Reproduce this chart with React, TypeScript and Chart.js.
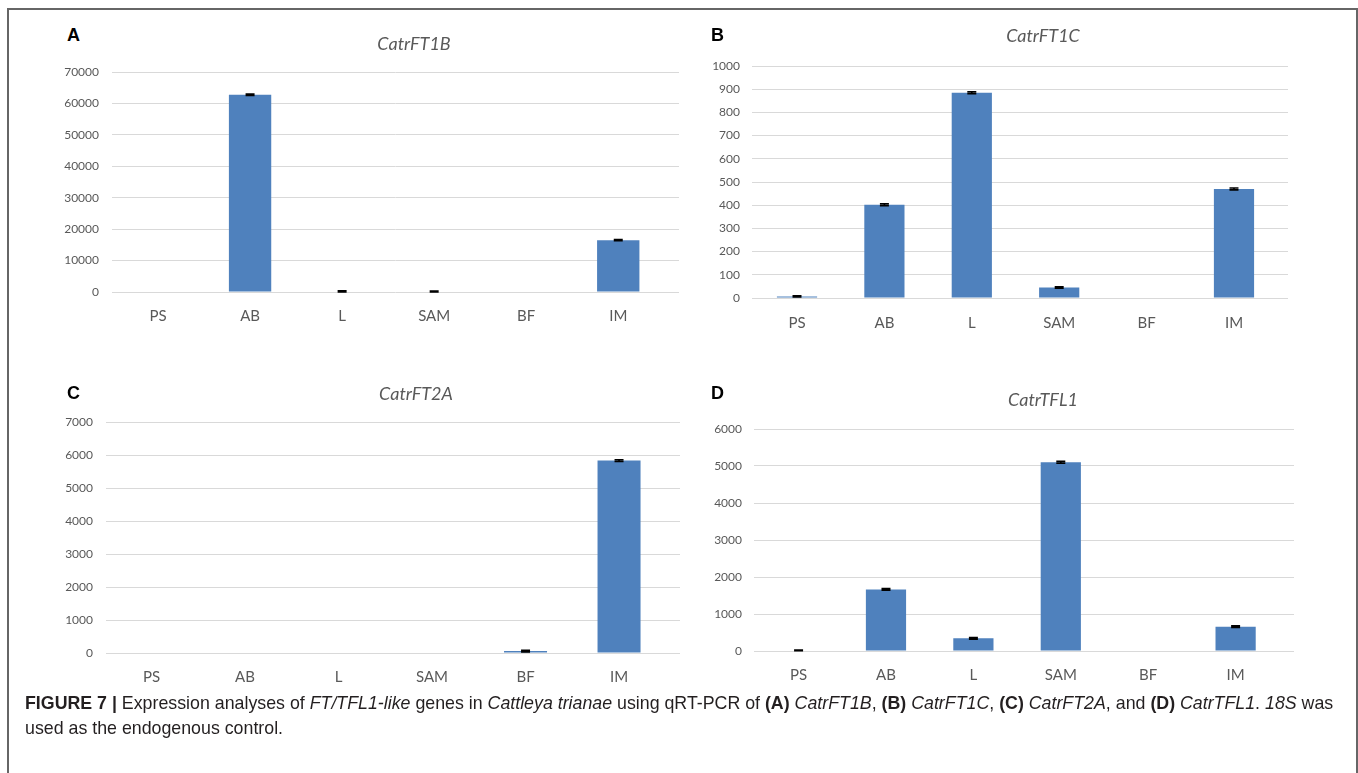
import React, { useEffect, useRef } from "react";
import { Chart, registerables } from "chart.js";

Chart.register(...registerables);

// ---------- data ----------
const categories = ["PS", "AB", "L", "SAM", "BF", "IM"];

const ft1bValues = [0, 62750, 150, 120, 0, 16490];
const ft1bErrors = [0, 250, 200, 200, 0, 180];

const ft1cValues = [7, 402, 885, 45, 0, 470];
const ft1cErrors = [3, 4, 4, 3, 0, 4];

const ft2aValues = [0, 0, 0, 0, 60, 5830];
const ft2aErrors = [0, 0, 0, 0, 25, 25];

const tfl1Values = [15, 1665, 343, 5101, 0, 656];
const tfl1Errors = [10, 22, 22, 25, 0, 22];

const ft1bTicks = { max: 70000, step: 10000 };
const ft1cTicks = { max: 1000, step: 100 };
const ft2aTicks = { max: 7000, step: 1000 };
const tfl1Ticks = { max: 6000, step: 1000 };

// ---------- styling ----------
const BAR = "#4f81bd";
const GRID = "#d9d9d9";
const TICK = "#595959";
const FONT = "Lato, 'Open Sans', sans-serif";

type PanelProps = {
  values: number[];
  errors: number[];
  yMax: number;
  yStep: number;
  left: number;
  top: number;
  width: number;
  height: number;
  yAxisW: number;
  yPad: number;
  xPad: number;
  padTop: number;
  xMin: number;
  xMax: number;
};

function Panel(p: PanelProps) {
  const ref = useRef<HTMLCanvasElement | null>(null);
  useEffect(() => {
    if (!ref.current) return;
    const errorPlugin = {
      id: "errorBars",
      afterDatasetsDraw(chart: any) {
        const ctx = chart.ctx;
        const meta = chart.getDatasetMeta(0);
        const y = chart.scales.y;
        ctx.save();
        ctx.strokeStyle = "#000";
        ctx.lineWidth = 1.6;
        meta.data.forEach((bar: any, i: number) => {
          const e = p.errors[i];
          if (!e) return;
          const v = p.values[i];
          const x = bar.x;
          const yt = y.getPixelForValue(v + e);
          const yb = y.getPixelForValue(Math.max(0, v - e));
          ctx.beginPath();
          ctx.moveTo(x, yt);
          ctx.lineTo(x, yb);
          ctx.moveTo(x - 4.5, yt);
          ctx.lineTo(x + 4.5, yt);
          ctx.moveTo(x - 4.5, yb);
          ctx.lineTo(x + 4.5, yb);
          ctx.stroke();
        });
        ctx.restore();
      },
    };
    const chart = new Chart(ref.current, {
      type: "bar",
      data: {
        datasets: [
          {
            data: p.values.map((v, i) => ({ x: i, y: v })),
            backgroundColor: BAR,
            borderWidth: 0,
            barPercentage: 0.46,
            categoryPercentage: 1,
          },
        ],
      },
      options: {
        animation: false,
        responsive: false,
        devicePixelRatio: 1,
        layout: { padding: { top: p.padTop, left: 0, right: 0, bottom: 0 } },
        plugins: {
          legend: { display: false },
          title: { display: false },
          tooltip: { enabled: false },
        },
        scales: {
          x: {
            type: "linear",
            offset: false,
            min: p.xMin,
            max: p.xMax,
            grid: { display: false, drawTicks: false, offset: false },
            border: { display: false },
            afterBuildTicks: (scale: any) => {
              scale.ticks = categories.map((_, i) => ({ value: i }));
            },
            afterFit: (scale: any) => {
              scale.height = 40;
            },
            ticks: {
              autoSkip: false,
              maxRotation: 0,
              padding: p.xPad,
              color: TICK,
              font: { family: FONT, size: 15 },
              callback: (v: any) => categories[v] ?? "",
            },
          },
          y: {
            min: 0,
            max: p.yMax,
            grid: { color: GRID, lineWidth: 1, drawTicks: false },
            border: { display: false },
            afterFit: (scale: any) => {
              scale.width = p.yAxisW;
            },
            ticks: {
              stepSize: p.yStep,
              padding: p.yPad,
              color: TICK,
              font: { family: FONT, size: 12 },
              callback: (v: any) => String(v),
            },
          },
        },
      },
      plugins: [errorPlugin],
    } as any);
    return () => chart.destroy();
  }, []);
  return (
    <canvas
      ref={ref}
      width={p.width}
      height={p.height}
      style={{ position: "absolute", left: p.left, top: p.top, width: p.width, height: p.height }}
    />
  );
}

const letterStyle: React.CSSProperties = {
  position: "absolute",
  fontFamily: "'Liberation Sans', Arial, sans-serif",
  fontWeight: "bold",
  fontSize: 18,
  lineHeight: "20px",
  color: "#000",
};

const titleStyle: React.CSSProperties = {
  position: "absolute",
  width: 200,
  textAlign: "center",
  fontFamily: FONT,
  fontStyle: "italic",
  fontSize: 18,
  lineHeight: "22px",
  color: TICK,
};

export default function App() {
  return (
    <div
      style={{
        position: "absolute",
        left: 0,
        top: 0,
        width: 1358,
        height: 773,
        overflow: "hidden",
        background: "#fff",
      }}
    >
      <div
        style={{
          position: "absolute",
          left: 7,
          top: 8,
          width: 1347,
          height: 800,
          borderTop: "2px solid #666",
          borderLeft: "2px solid #666",
          borderRight: "2px solid #666",
        }}
      />
      <Panel values={ft1bValues} errors={ft1bErrors} yMax={ft1bTicks.max} yStep={ft1bTicks.step}
        left={40} top={48} width={639} height={284} yAxisW={72} yPad={13} xPad={15} padTop={24}
        xMin={-0.5} xMax={5.66} />
      <Panel values={ft1cValues} errors={ft1cErrors} yMax={ft1cTicks.max} yStep={ft1cTicks.step}
        left={690} top={42} width={598} height={296} yAxisW={62} yPad={12} xPad={16} padTop={24}
        xMin={-0.515} xMax={5.618} />
      <Panel values={ft2aValues} errors={ft2aErrors} yMax={ft2aTicks.max} yStep={ft2aTicks.step}
        left={40} top={398} width={640} height={295} yAxisW={66} yPad={13} xPad={15} padTop={24}
        xMin={-0.487} xMax={5.652} />
      <Panel values={tfl1Values} errors={tfl1Errors} yMax={tfl1Ticks.max} yStep={tfl1Ticks.step}
        left={690} top={405} width={604} height={286} yAxisW={64} yPad={12} xPad={15} padTop={24}
        xMin={-0.51} xMax={5.668} />

      <div style={{ ...letterStyle, left: 67, top: 25 }}>A</div>
      <div style={{ ...letterStyle, left: 711, top: 25 }}>B</div>
      <div style={{ ...letterStyle, left: 67, top: 383 }}>C</div>
      <div style={{ ...letterStyle, left: 711, top: 383 }}>D</div>

      <div style={{ ...titleStyle, left: 314, top: 32 }}>CatrFT1B</div>
      <div style={{ ...titleStyle, left: 943, top: 24 }}>CatrFT1C</div>
      <div style={{ ...titleStyle, left: 316, top: 382 }}>CatrFT2A</div>
      <div style={{ ...titleStyle, left: 943, top: 388 }}>CatrTFL1</div>

      <div
        style={{
          position: "absolute",
          left: 25,
          top: 691,
          fontFamily: "'Liberation Sans', Arial, sans-serif",
          fontSize: 17.8,
          lineHeight: "25px",
          color: "#231f20",
          whiteSpace: "nowrap",
        }}
      >
        <b>FIGURE 7 |</b> Expression analyses of <i>FT/TFL1-like</i> genes in <i>Cattleya trianae</i> using
        qRT-PCR of <b>(A)</b> <i>CatrFT1B</i>, <b>(B)</b> <i>CatrFT1C</i>, <b>(C)</b> <i>CatrFT2A</i>, and{" "}
        <b>(D)</b> <i>CatrTFL1</i>. <i>18S</i> was
        <br />
        used as the endogenous control.
      </div>
    </div>
  );
}
